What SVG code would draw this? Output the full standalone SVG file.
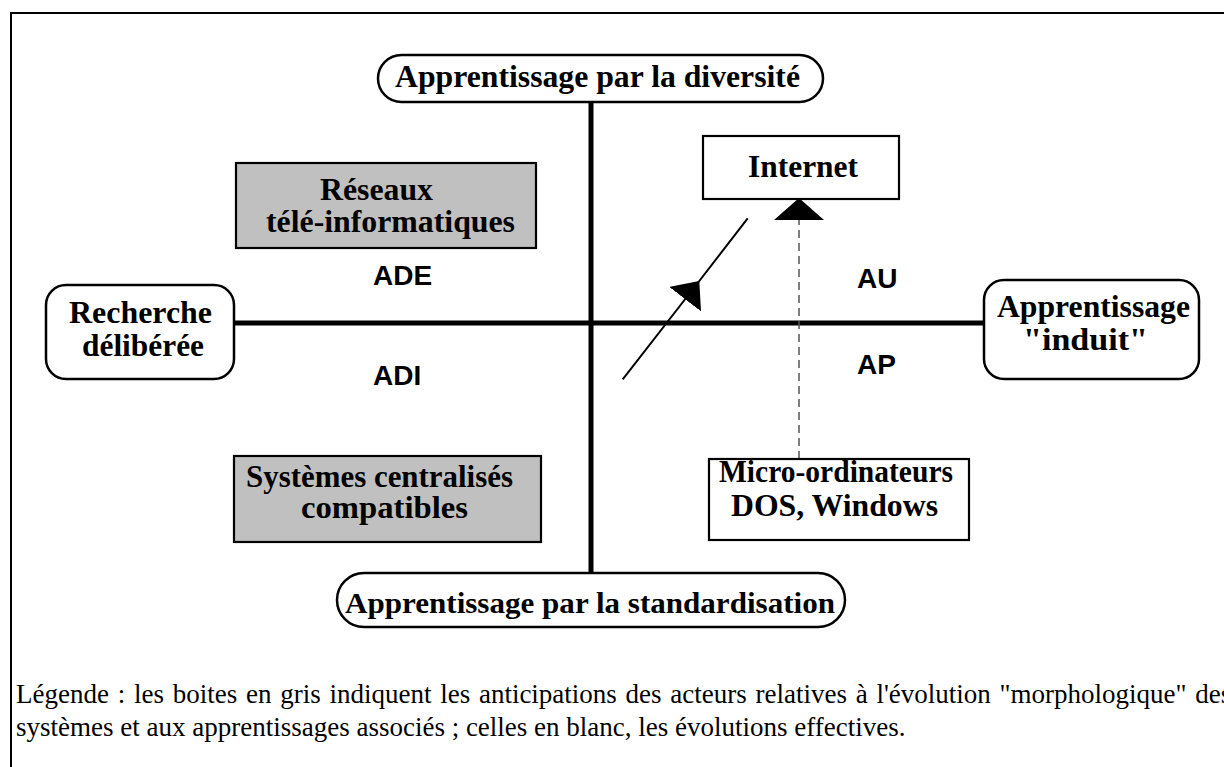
<svg xmlns="http://www.w3.org/2000/svg" width="1224" height="767" viewBox="0 0 1224 767">
<style>
.t{font-family:"Liberation Serif","Times New Roman",serif;font-weight:bold;font-size:31.5px;fill:#000}
.q{font-family:"Liberation Sans",Arial,sans-serif;font-weight:bold;font-size:28px;fill:#000}
.leg{font-family:"Liberation Serif","Times New Roman",serif;font-size:27px;fill:#000}
.pill{fill:#fff;stroke:#000;stroke-width:2.5}
.wbox{fill:#fff;stroke:#000;stroke-width:2.2}
.gbox{fill:#c0c0c0;stroke:#000;stroke-width:2.2}
.axis{stroke:#000;stroke-width:5;fill:none}
</style>
<defs>
<marker id="tri" markerUnits="userSpaceOnUse" markerWidth="24" markerHeight="40" viewBox="0 0 24 40" refX="23" refY="20" orient="auto">
<path d="M0,0 L23,20 L0,40 Z" fill="#000"/>
</marker>
<marker id="tri2" markerUnits="userSpaceOnUse" markerWidth="23" markerHeight="50" viewBox="0 0 23 50" refX="22" refY="25" orient="auto">
<path d="M0,0 L22,25 L0,50 Z" fill="#000"/>
</marker>
</defs>
<rect width="1224" height="767" fill="#fff"/>
<rect x="11" y="13" width="1300" height="800" fill="none" stroke="#000" stroke-width="2"/>

<g id="connectors">
<line class="axis" x1="234" y1="323" x2="984" y2="323"/>
<line class="axis" x1="591" y1="102" x2="591" y2="573" stroke-width="4.5"/>
<path d="M622.7,379.3 L699.3,281 L747.7,218.3" fill="none" stroke="#000" stroke-width="2" marker-mid="url(#tri)"/>
<path d="M799,459 L799,198" fill="none" stroke="#555" stroke-width="1.5" stroke-dasharray="8,5" marker-end="url(#tri2)"/>
</g>

<g id="axis-top">
<rect class="pill" x="378" y="55" width="445" height="47" rx="23.5"/>
<text class="t" x="395" y="87" textLength="405" lengthAdjust="spacingAndGlyphs">Apprentissage par la diversité</text>
</g>
<g id="axis-bottom">
<rect class="pill" x="337" y="573" width="508" height="54" rx="27"/>
<text class="t" x="345" y="613" style="font-size:30px" textLength="490" lengthAdjust="spacingAndGlyphs">Apprentissage par la standardisation</text>
</g>
<g id="axis-left">
<rect class="pill" x="46" y="285" width="188" height="94" rx="20"/>
<text class="t" x="69" y="323" textLength="143" lengthAdjust="spacingAndGlyphs">Recherche</text>
<text class="t" x="82" y="356" textLength="122" lengthAdjust="spacingAndGlyphs">délibérée</text>
</g>
<g id="axis-right">
<rect class="pill" x="984" y="280" width="215" height="99" rx="20"/>
<text class="t" x="997" y="317" textLength="193" lengthAdjust="spacingAndGlyphs">Apprentissage</text>
<text class="t" x="1023" y="350" textLength="125" lengthAdjust="spacingAndGlyphs">"induit"</text>
</g>
<g id="reseaux">
<rect class="gbox" x="236" y="163" width="300" height="85"/>
<text class="t" x="320" y="200" textLength="113" lengthAdjust="spacingAndGlyphs">Réseaux</text>
<text class="t" x="266" y="232" textLength="249" lengthAdjust="spacingAndGlyphs">télé-informatiques</text>
</g>
<g id="systemes">
<rect class="gbox" x="234" y="456" width="307" height="86"/>
<text class="t" x="246" y="487" textLength="267" lengthAdjust="spacingAndGlyphs">Systèmes centralisés</text>
<text class="t" x="301" y="518" textLength="167" lengthAdjust="spacingAndGlyphs">compatibles</text>
</g>
<g id="internet">
<rect class="wbox" x="703" y="136" width="196" height="63"/>
<text class="t" x="748" y="177" textLength="110" lengthAdjust="spacingAndGlyphs">Internet</text>
</g>
<g id="micro">
<rect class="wbox" x="709" y="459" width="260" height="81"/>
<text class="t" x="719" y="482" textLength="234" lengthAdjust="spacingAndGlyphs">Micro-ordinateurs</text>
<text class="t" x="731" y="516" textLength="207" lengthAdjust="spacingAndGlyphs">DOS, Windows</text>
</g>
<g id="labels">
<text class="q" x="373" y="285">ADE</text>
<text class="q" x="373" y="385">ADI</text>
<text class="q" x="857" y="288">AU</text>
<text class="q" x="857" y="374">AP</text>
</g>
<g id="legend">
<text class="leg" x="16" y="703" style="word-spacing:2px">Légende : les boites en gris indiquent les anticipations des acteurs relatives à l'évolution "morphologique" des</text>
<text class="leg" x="16" y="736">systèmes et aux apprentissages associés ; celles en blanc, les évolutions effectives.</text>
</g>
</svg>
